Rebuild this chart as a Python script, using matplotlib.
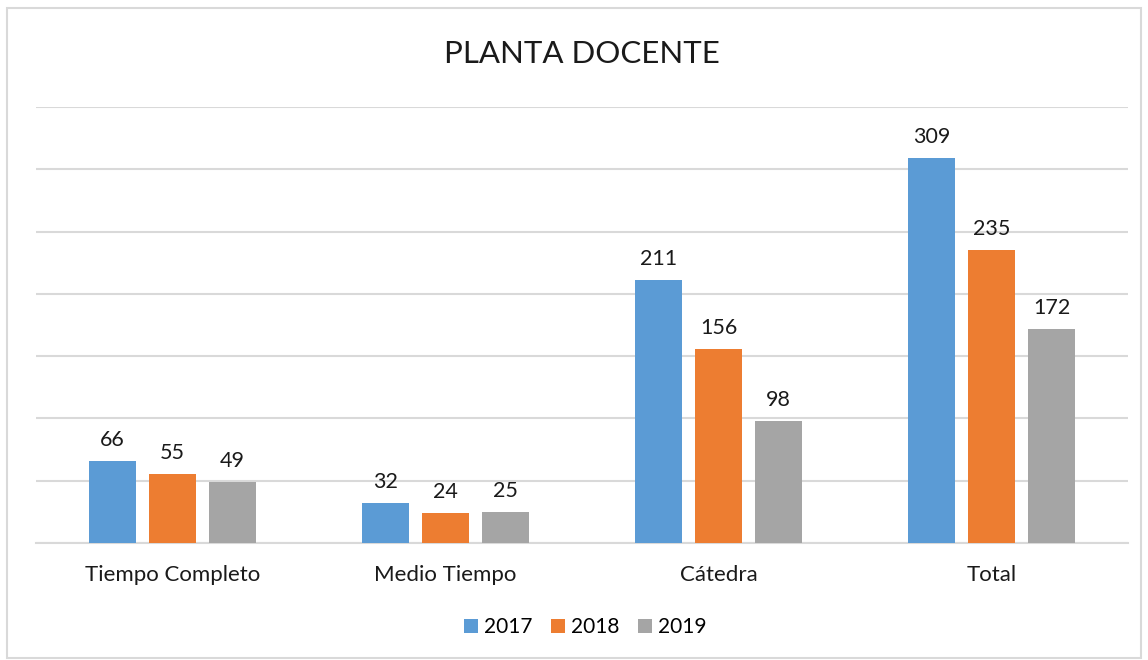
import numpy as np
import matplotlib
matplotlib.use('Agg')
import matplotlib.pyplot as plt
from matplotlib.patches import Rectangle

plt.rcParams['font.family'] = ['Lato', 'DejaVu Sans']

categories = ['Tiempo Completo', 'Medio Tiempo', 'Cátedra', 'Total']
years = ['2017', '2018', '2019']
v2017 = [66, 32, 211, 309]
v2018 = [55, 24, 156, 235]
v2019 = [49, 25, 98, 172]
colors = ['#5B9BD5', '#ED7D31', '#A5A5A5']

fig = plt.figure(figsize=(11.48, 6.6), dpi=100)
ax = fig.add_axes([0.0314, 0.1773, 0.9512, 0.6606])

# light border around the whole chart
fig.patches.append(Rectangle((0.0065, 0.003), 0.987, 0.985, transform=fig.transFigure,
                             fill=False, edgecolor='#d9d9d9', linewidth=1.5))

x = np.arange(len(categories))
width = 0.172
step = 0.22
for i, (vals, name) in enumerate(zip([v2017, v2018, v2019], years)):
    bars = ax.bar(x + (i - 1) * step, vals, width, color=colors[i], label=name, zorder=3)
    for b, v in zip(bars, vals):
        ax.annotate(str(v), (b.get_x() + b.get_width() / 2, v), xytext=(0, 8),
                    textcoords='offset points', ha='center', va='bottom',
                    fontsize=15.5, color='#1a1a1a')

ax.set_xlim(-0.5, len(categories) - 0.5)
ax.set_ylim(0, 350)
ax.set_yticks(np.arange(0, 351, 50))
ax.set_yticklabels([])
ax.grid(True, axis='y', color='#d9d9d9', linewidth=1.5, zorder=0)
ax.set_xticks(x)
ax.set_xticklabels(categories, fontsize=16, color='#1a1a1a')
ax.tick_params(axis='both', length=0)
ax.tick_params(axis='x', pad=16)
for s in ['top', 'right', 'left']:
    ax.spines[s].set_visible(False)
ax.spines['bottom'].set_color('#d9d9d9')
ax.spines['bottom'].set_linewidth(1.5)

fig.text(0.507, 0.918, 'PLANTA DOCENTE', ha='center', va='center', fontsize=22.5, color='#1a1a1a')

fig.legend(loc='center', bbox_to_anchor=(0.51, 0.05), ncol=3, frameon=False,
           fontsize=15, handlelength=0.65, handleheight=0.65, handletextpad=0.3,
           columnspacing=0.9)

fig.savefig('out.png', dpi=100)
